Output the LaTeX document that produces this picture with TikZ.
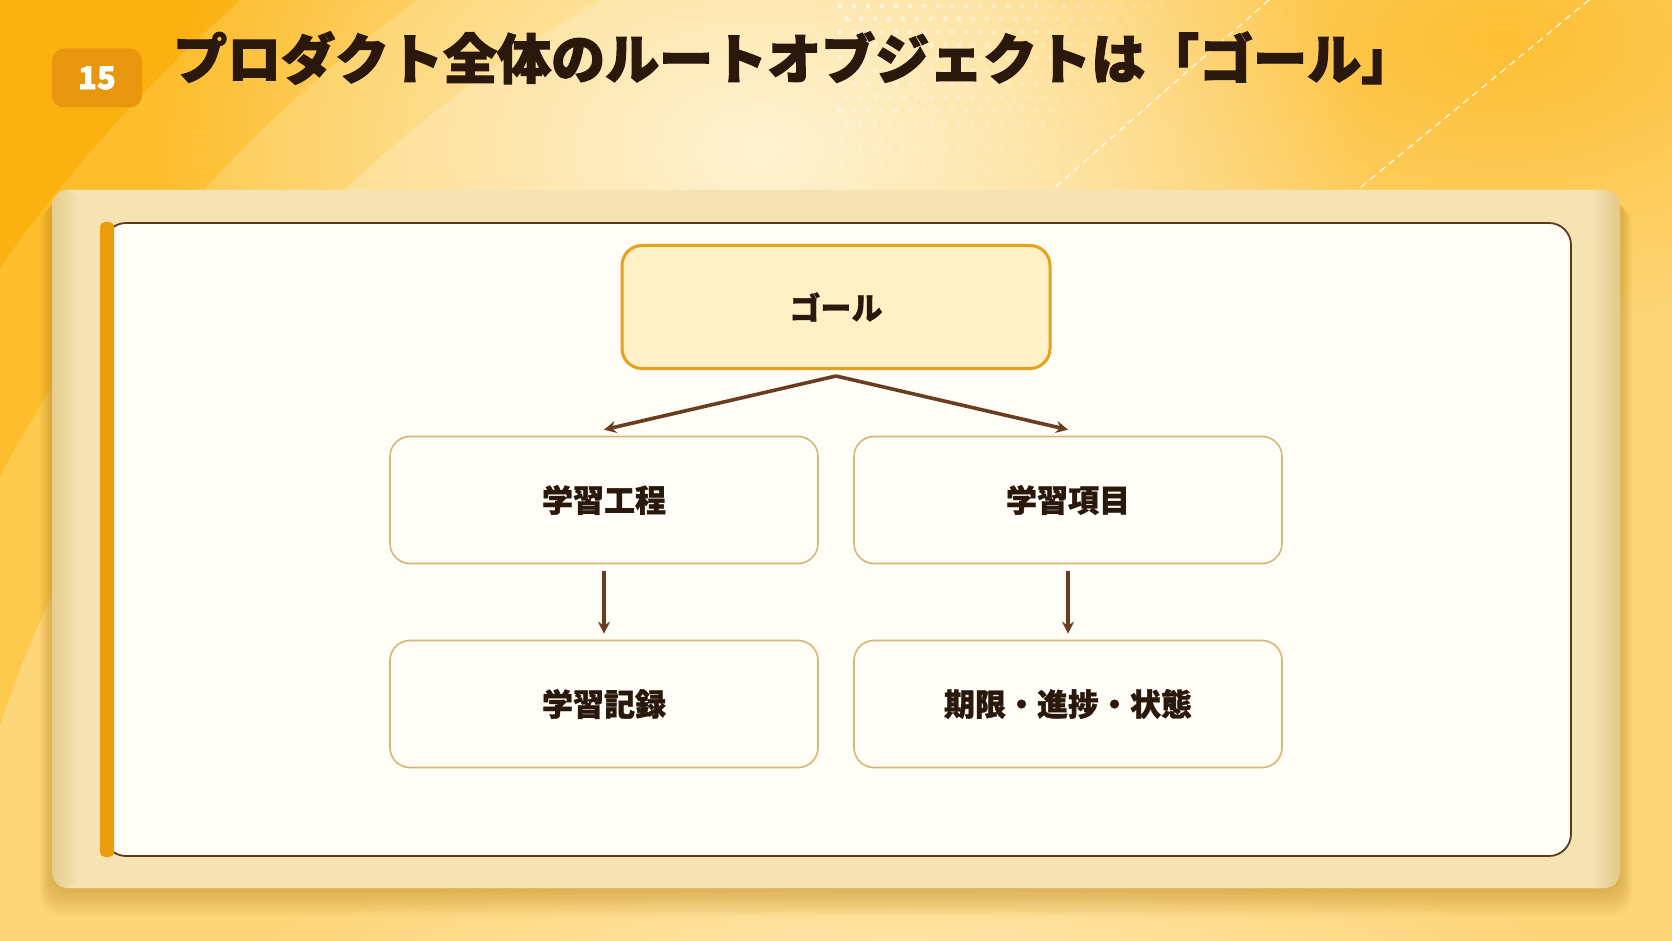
\documentclass[tikz,border=0pt]{standalone}
\usepackage{fontspec}
\newfontfamily\jp{Noto Sans CJK JP}[BoldFeatures={FakeBold=1.2}]
\newfontfamily\jpheavy{Noto Sans CJK JP}[BoldFeatures={FakeBold=2.2}]
\usetikzlibrary{arrows.meta,shadings,fadings}
\definecolor{bgA}{HTML}{FBB10F}
\definecolor{bgA2}{HTML}{FDBD2C}
\definecolor{bgB}{HTML}{FDCA4E}
\definecolor{bgC}{HTML}{FED67A}
\definecolor{glow}{HTML}{FFF3D2}
\definecolor{ink}{HTML}{2A180C}
\definecolor{arrowc}{HTML}{6B3D1F}
\definecolor{goalfill}{HTML}{FFF0C6}
\definecolor{goalline}{HTML}{E6A11C}
\definecolor{boxline}{HTML}{D9B676}
\definecolor{paper}{HTML}{FFFDF6}
\definecolor{panel}{HTML}{F5E3B3}
\definecolor{bar}{HTML}{EB9C0C}
\definecolor{badge}{HTML}{E8960E}
\definecolor{frame}{HTML}{5E3A1C}
\definecolor{shadowc}{HTML}{B8861E}
\tikzfading[name=softcirc, inner color=transparent!0, outer color=transparent!100]
\tikzset{
  card/.style={draw=boxline, line width=1.6pt, fill=paper, rounded corners=20pt,
    minimum width=428pt, minimum height=127pt, text=ink, font=\jp\bfseries\fontsize{31}{31}\selectfont},
  goalcard/.style={card, draw=goalline, line width=3pt, fill=goalfill, minimum height=123pt},
  arr/.style={draw=arrowc, line width=3.6pt, -{Stealth[length=12pt,width=12pt]}},
}
\begin{document}
\begin{tikzpicture}[x=1pt,y=-1pt]
\useasboundingbox (0,0) rectangle (1672,941);
% background
\fill[bgA] (0,0) rectangle (1672,941);
\begin{scope}
\clip (0,0) rectangle (1672,941);
\fill[bgA2] (1250,1150) circle [radius=1530];
\fill[bgB] (1250,1150) circle [radius=1420];
\fill[bgC] (1250,1150) circle [radius=1320];
\fill[bgA2, path fading=softcirc, opacity=0.9] (1500,40) ellipse [x radius=520, y radius=300];
\fill[glow, path fading=softcirc] (760,150) ellipse [x radius=600, y radius=420];
\fill[glow, path fading=softcirc, opacity=0.6] (900,960) ellipse [x radius=650, y radius=110];
% halftone dots
\foreach \i in {0,...,24}{
  \foreach \j in {0,...,13}{
    \pgfmathsetmacro{\dotop}{0.65*(1-\i/25)*(1-\j/16)}
    \pgfmathsetmacro{\dotx}{840+\i*14+mod(\j,2)*7}
    \pgfmathsetmacro{\doty}{6+\j*13}
    \fill[white, fill opacity=\dotop] (\dotx,\doty) circle [radius=2.6];
  }
}
% dashed lines
\draw[white, line width=1.2pt, dash pattern=on 7pt off 5pt, opacity=0.9] (1269,0) -- (1045,196);
\draw[white, line width=1.2pt, dash pattern=on 7pt off 5pt, opacity=0.9] (1589,0) -- (1350,196);
\end{scope}
% badge and title
\node[fill=badge, rounded corners=12pt, minimum width=90pt, minimum height=59pt, text=white,
  font=\jpheavy\bfseries\fontsize{31}{31}\selectfont] (badge) at (97,78) {15};
\node[anchor=west, text=ink, inner sep=0pt, font=\jpheavy\bfseries\fontsize{54}{54}\selectfont] (title) at (173,58)
  {プロダクト全体のルートオブジェクトは「ゴール」};
% panel shadow
\foreach \k in {1,...,10}{
  \fill[shadowc, opacity=0.05, rounded corners=18pt] (52-\k*1.2,192+\k*1.5) rectangle (1620+\k*1.2,888+\k*2.8);
}
\fill[panel, rounded corners=16pt] (52,190) rectangle (1620,888);
\shade[left color=shadowc!25!panel, right color=panel, rounded corners=16pt] (52,190) rectangle (80,888);
\shade[left color=panel, right color=shadowc!30!panel] (1592,190) -- (1604,190) [rounded corners=16pt] -- (1620,190) -- (1620,888) [sharp corners] -- (1592,888) -- cycle;
% inner paper
\filldraw[fill=paper, draw=frame, line width=1.8pt, rounded corners=22pt] (104,223) rectangle (1571,856);
\fill[bar, rounded corners=5pt] (100,222) rectangle (114,857);
% nodes
\node[goalcard] (goal) at (836,307) {ゴール};
\node[card] (a1) at (604,500) {学習工程};
\node[card] (a2) at (1068,500) {学習項目};
\node[card] (b1) at (604,704) {学習記録};
\node[card] (b2) at (1068,704) {期限・進捗・状態};
% connectors
\draw[arr] ([yshift=-6pt]goal.south) -- ([yshift=6pt]a1.north);
\draw[arr] ([yshift=-6pt]goal.south) -- ([yshift=6pt]a2.north);
\draw[arr] ([yshift=-7pt]a1.south) -- ([yshift=6pt]b1.north);
\draw[arr] ([yshift=-7pt]a2.south) -- ([yshift=6pt]b2.north);
\end{tikzpicture}
\end{document}
